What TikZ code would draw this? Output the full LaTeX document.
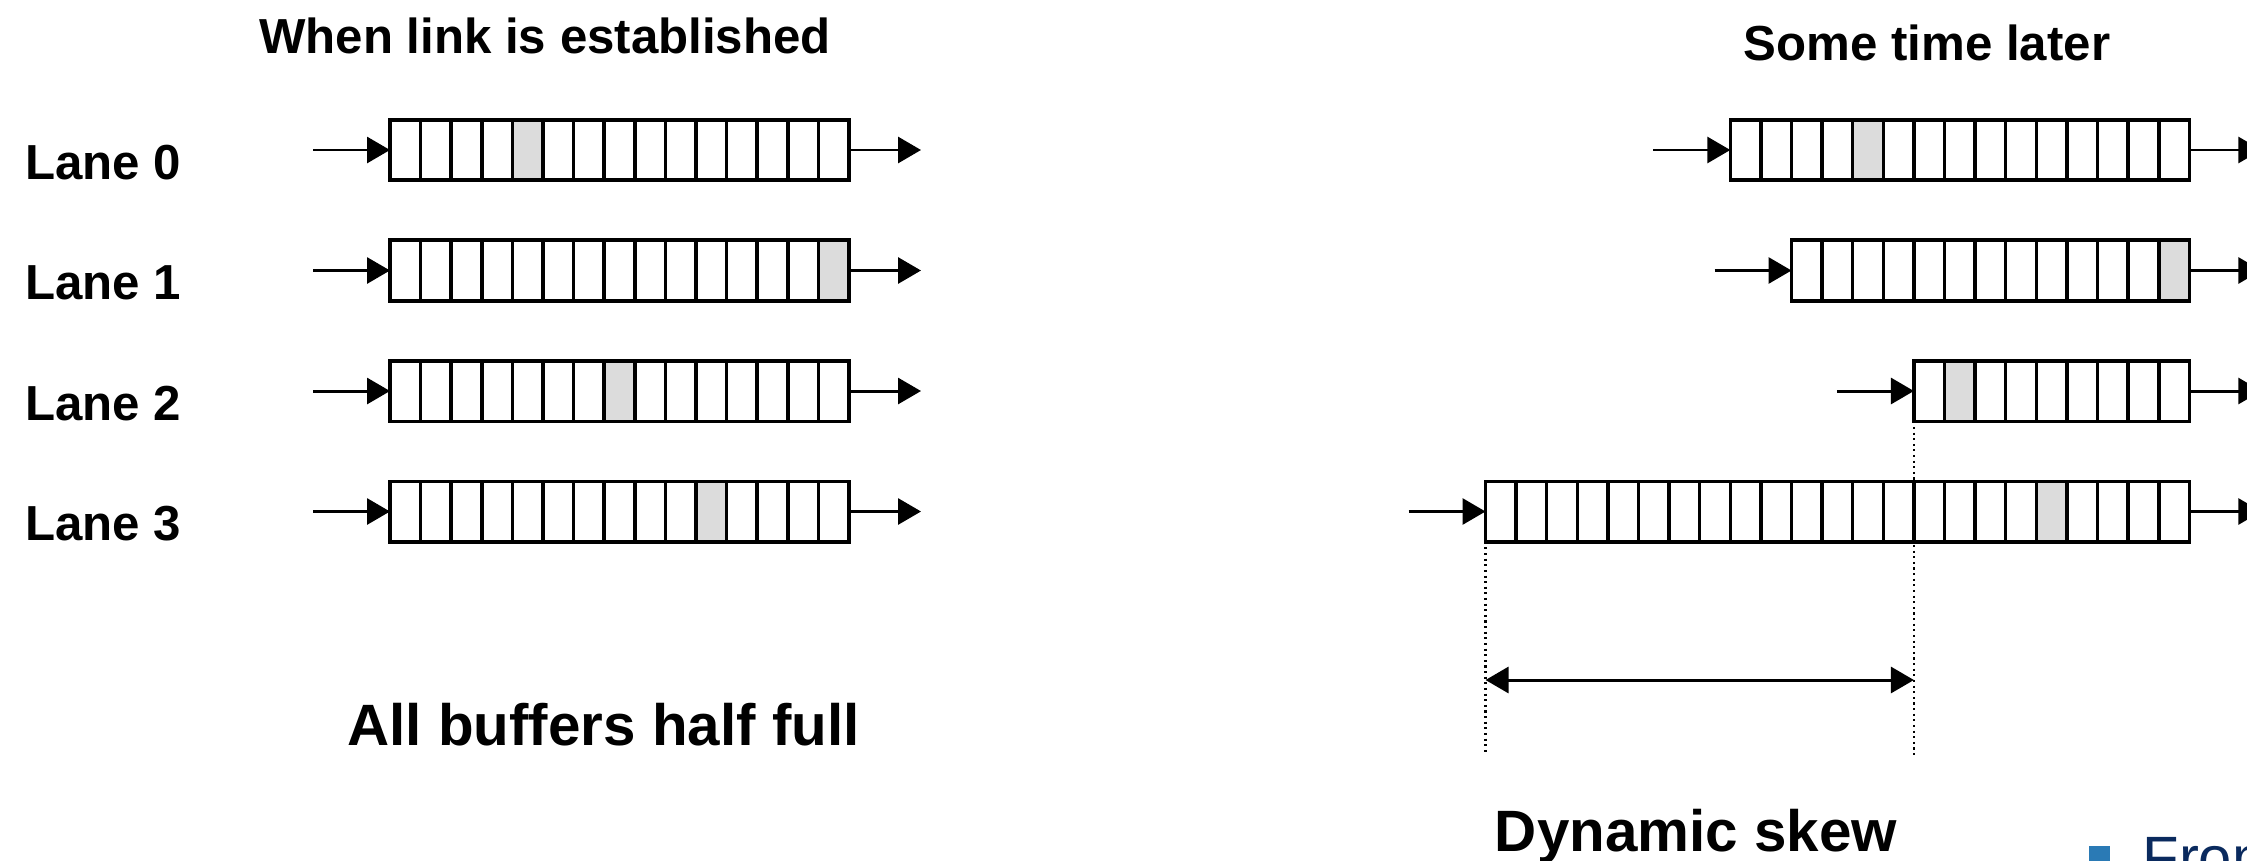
\documentclass[tikz,border=0pt]{standalone}
\usepackage{fontspec}
\setmainfont{Liberation Sans}
\usepackage{xcolor}
\usetikzlibrary{arrows.meta,positioning}

\definecolor{cellgray}{RGB}{220,220,220}
\definecolor{slidenavy}{RGB}{10,42,94}
\definecolor{slideblue}{RGB}{42,122,181}

\begin{document}
\begin{tikzpicture}[>={Triangle[length=2.3mm,width=2.6mm]},line width=1pt,
  buf/.style={draw,rectangle,anchor=east,inner sep=0pt,outer sep=0pt,minimum height=6.05mm},
  feed/.style={->,line width=0.85pt},
  lane/.style={font=\bfseries\fontsize{14}{16}\selectfont,anchor=base west,inner sep=0pt},
  head/.style={font=\bfseries\fontsize{14}{16}\selectfont,anchor=base,inner sep=0pt},
  caption/.style={font=\bfseries\fontsize{16.6}{19}\selectfont,anchor=base,inner sep=0pt},
  skew/.style={densely dotted,line width=0.6pt}]

	\useasboundingbox (0,0) rectangle (22.47,-8.6);

	% Headings
	\node [head] at (5.45,-0.533) (hleft) {When link is established};
	\node [head] at (19.27,-0.60) (hright) {Some time later};

	% Lane labels
	\node [lane] at (0.233,-1.79) (lane0) {Lane 0};
	\node [lane] at (0.233,-2.995) (lane1) {Lane 1};
	\node [lane] at (0.233,-4.20) (lane2) {Lane 2};
	\node [lane] at (0.233,-5.405) (lane3) {Lane 3};

	% The buffers: name/right end/y/cells/grey cell
	\foreach \b/\xr/\y/\n/\g in {a0/8.49/-1.5/15/4, a1/8.49/-2.705/15/14,
	    a2/8.49/-3.91/15/7, a3/8.49/-5.115/15/10,
	    b0/21.893/-1.5/15/4, b1/21.893/-2.705/13/12,
	    b2/21.893/-3.91/9/1, b3/21.893/-5.115/23/18} {
	  \pgfmathtruncatemacro\m{\n-1}
	  \fill [cellgray] ({\xr-(\n-\g)*0.306},\y-0.3025) rectangle ++(0.306,0.605);
	  \node [buf,minimum width=\n*3.06mm] at (\xr,\y) (\b) {};
	  \foreach \k in {1,...,\m}
	    \draw ([xshift=-\k*3.06mm]\b.south east) -- ([xshift=-\k*3.06mm]\b.north east);
	  % Feed in and out
	  \coordinate [left=7.7mm of \b.west] (\b-in);
	  \coordinate [right=7.2mm of \b.east] (\b-out);
	  \draw [feed] (\b-in) -- (\b.west);
	  \draw [feed] (\b.east) -- (\b-out);
	}

	% Skew markers
	\coordinate (skewL) at (b3.south west |- 0,-7.52);
	\coordinate (skewR) at (b2.south west |- 0,-7.57);
	\draw [skew] (b3.south west) -- (skewL);
	\draw [skew] (b2.south west) -- (skewR);
	\coordinate (skewa) at (b3.south west |- 0,-6.80);
	\coordinate (skewb) at (b2.south west |- 0,-6.80);
	\draw [<->,line width=0.85pt] (skewa) -- (skewb);

	% Captions
	\node [caption] at (6.036,-7.45) (full) {All buffers half full};
	\node [caption] at (16.96,-8.517) (dyn) {Dynamic skew};

	% Slide bullet cut off at the corner
	\node [fill=slideblue,minimum size=2.1mm,inner sep=0pt] at (20.995,-8.562) (dot) {};
	\node [font=\fontsize{17}{20}\selectfont,text=slidenavy,anchor=base west,inner sep=0pt] at (21.407,-8.78) (from) {From};

\end{tikzpicture}
\end{document}
